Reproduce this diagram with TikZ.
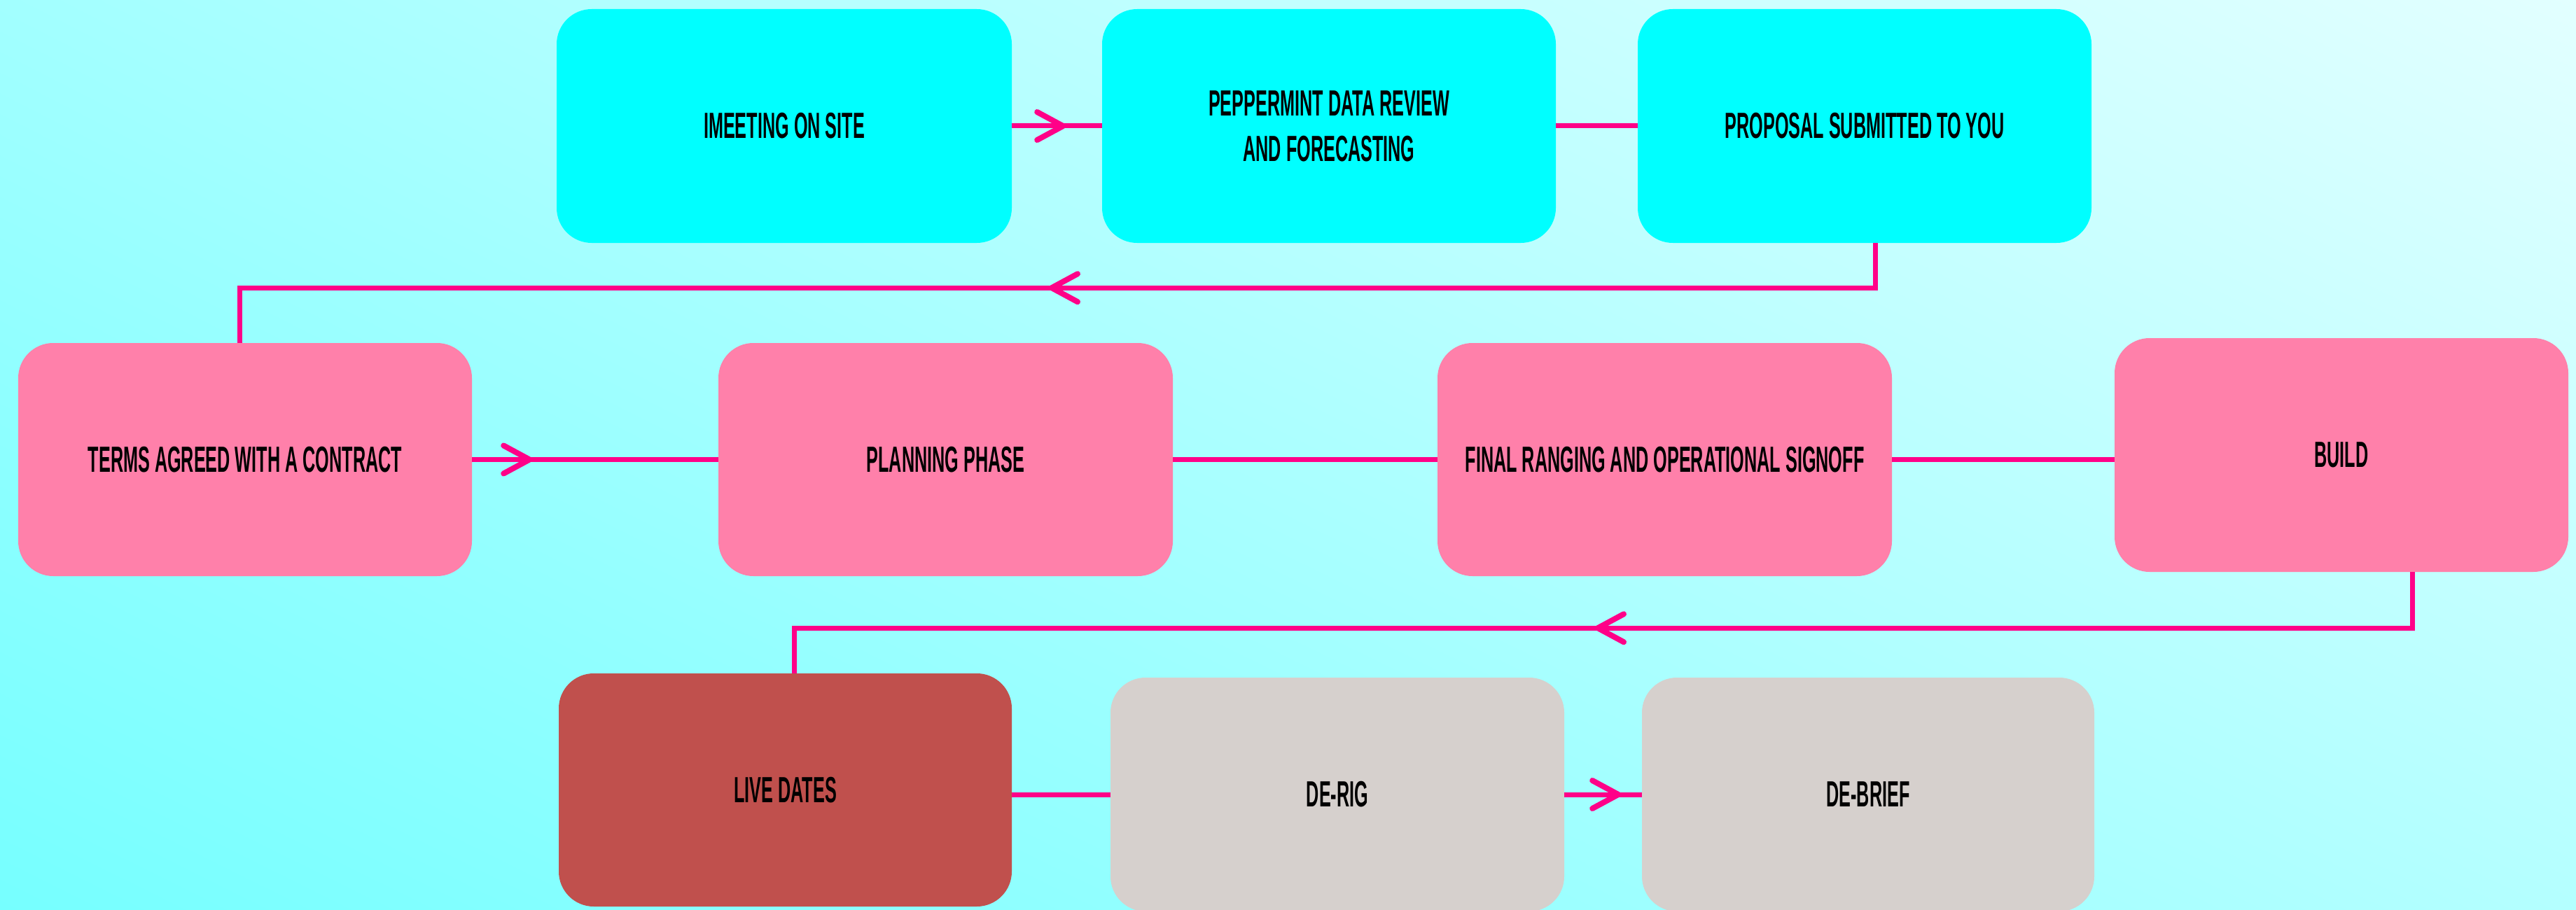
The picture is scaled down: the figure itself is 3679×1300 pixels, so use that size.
\documentclass[tikz,border=0pt]{standalone}
\usepackage{fontspec}
\newfontfamily\condfont[FakeStretch=0.485,UprightFont={* Bold}]{Liberation Sans}
\usetikzlibrary{decorations.markings,shadings}
\definecolor{bgll}{HTML}{76FFFF}
\definecolor{bgul}{HTML}{A2FFFF}
\definecolor{bgur}{HTML}{E2FFFF}
\definecolor{bglr}{HTML}{B4FFFF}
\definecolor{cyanbox}{HTML}{00FFFF}
\definecolor{pinkbox}{HTML}{FF80AA}
\definecolor{livebox}{HTML}{C0504D}
\definecolor{greybox}{HTML}{D6D0CD}
\definecolor{connpink}{HTML}{FF0088}
\tikzset{
  stage/.style={rectangle, rounded corners=50pt, minimum width=648pt,
    minimum height=334pt, inner sep=0pt, align=center, text=black,
    font=\condfont\fontsize{52}{65}\selectfont},
  conn/.style={draw=connpink, line width=7pt},
  chev at/.style={postaction={decorate}, decoration={markings,
    mark=at position #1 with {\draw[connpink, line width=8pt, line cap=round,
      line join=round] (-37pt,-20pt) -- (0pt,0pt) -- (-37pt,20pt);}}}
}
\begin{document}
\begin{tikzpicture}[x=1pt,y=-1pt]
\useasboundingbox (0,0) rectangle (3679,1300);
\shade[lower left=bgll, upper left=bgul, upper right=bgur, lower right=bglr]
  (0,0) rectangle (3679,1300);

% row 1
\node[stage, fill=cyanbox, minimum width=650pt] (b1) at (1120,180) {IMEETING ON SITE};
\node[stage, fill=cyanbox] (b2) at (1898,180) {PEPPERMINT DATA REVIEW\\AND FORECASTING};
\node[stage, fill=cyanbox] (b3) at (2663,180) {PROPOSAL SUBMITTED TO YOU};

% row 2
\node[stage, fill=pinkbox, minimum height=333pt] (b4) at (350,656.5) {TERMS AGREED WITH A CONTRACT};
\node[stage, fill=pinkbox, minimum height=333pt, minimum width=649pt] (b5) at (1350.5,656.5) {PLANNING PHASE};
\node[stage, fill=pinkbox, minimum height=333pt, minimum width=649pt] (b6) at (2377.5,656.5) {FINAL RANGING AND OPERATIONAL SIGNOFF};
\node[stage, fill=pinkbox] (b7) at (3344,650) {BUILD};

% row 3
\node[stage, fill=livebox, minimum width=647pt, minimum height=333pt] (b8) at (1121.5,1128.5) {LIVE DATES};
\node[stage, fill=greybox] (b9) at (1910,1135) {DE-RIG};
\node[stage, fill=greybox, minimum width=646pt] (b10) at (2668,1135) {DE-BRIEF};

% connectors
\draw[conn, chev at=73pt] (b1.east) -- (b2.west);
\draw[conn] (b2.east) -- (b3.west);
\draw[conn, chev at=1240pt] ([xshift=15pt]b3.south) -- ++(0,64) -| ([xshift=-8pt]b4.north);
\draw[conn, chev at=82pt] (b4.east) -- (b5.west);
\draw[conn] (b5.east) -- (b6.west);
\draw[conn] (b6.east) -- (b6.east -| b7.west);
\draw[conn, chev at=1243pt] ([xshift=101pt]b7.south) -- ++(0,80) -| ([xshift=12.5pt]b8.north);
\draw[conn] (b9.west -| b8.east) -- (b9.west);
\draw[conn, chev at=77pt] (b9.east) -- (b10.west);
\end{tikzpicture}
\end{document}
